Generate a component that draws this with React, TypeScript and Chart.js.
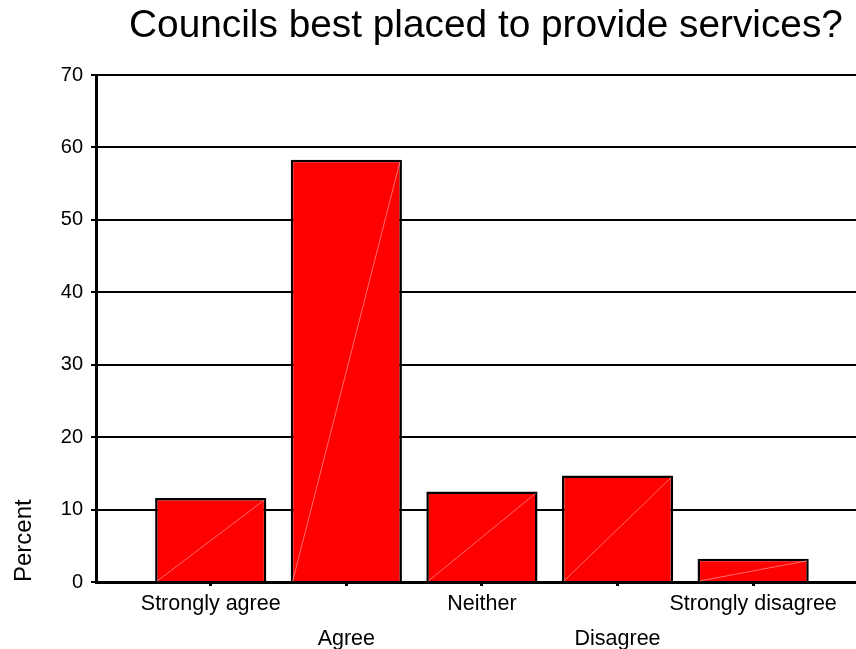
import React, { useEffect, useRef } from "react";
import { Chart, registerables } from "chart.js";

Chart.register(...registerables);

const categories = ["Strongly agree", "Agree", "Neither", "Disagree", "Strongly disagree"];
const percents = [11.6, 58.3, 12.5, 14.7, 3.2];
const yTicks = [0, 10, 20, 30, 40, 50, 60, 70];
const titleText = "Councils best placed to provide services?";
const yTitle = "Percent";

const FONT = "'Liberation Sans', Arial, Helvetica, sans-serif";

const diagonalPlugin = {
  id: "diag",
  afterDatasetsDraw(chart: any) {
    const ctx = chart.ctx;
    const meta = chart.getDatasetMeta(0);
    ctx.save();
    ctx.strokeStyle = "rgba(255,180,180,0.6)";
    ctx.lineWidth = 1;
    meta.data.forEach((bar: any) => {
      const p = bar.getProps(["x", "y", "base", "width"], true);
      const l = p.x - p.width / 2 + 2;
      const r = p.x + p.width / 2 - 2;
      ctx.beginPath();
      ctx.moveTo(l, p.base);
      ctx.lineTo(r, p.y + 2);
      ctx.stroke();
    });
    ctx.restore();
  },
};

export default function App() {
  const ref = useRef<HTMLCanvasElement>(null);
  useEffect(() => {
    if (!ref.current) return;
    const chart = new Chart(ref.current, {
      type: "bar",
      data: {
        datasets: [
          {
            data: percents.map((v, i) => ({ x: i, y: v })),
            backgroundColor: "#ff0000",
            borderColor: "#000000",
            borderWidth: 2.5,
            borderSkipped: "bottom",
            barPercentage: 0.82,
            categoryPercentage: 1,
          },
        ],
      },
      options: {
        responsive: false,
        animation: false,
        layout: { padding: { left: 0, right: 8, top: 0, bottom: 0 } },
        plugins: {
          legend: { display: false },
          tooltip: { enabled: false },
          title: {
            display: true,
            text: titleText,
            fullSize: false,
            color: "#000",
            font: { family: FONT, size: 38.8, weight: "normal" },
            padding: { top: 3.5, bottom: 25 },
          },
        },
        scales: {
          x: {
            type: "linear",
            min: -0.846,
            max: 4.906,
            offset: false,
            afterFit: (s: any) => {
              s.height = 67;
            },
            grid: {
              offset: false,
              drawOnChartArea: false,
              drawTicks: true,
              tickLength: 4,
              color: "#000",
              lineWidth: 3,
            },
            border: { display: true, color: "#000", width: 3 },
            ticks: {
              stepSize: 1,
              includeBounds: false,
              autoSkip: false,
              maxRotation: 0,
              minRotation: 0,
              padding: 1,
              color: "#000",
              font: { family: FONT, size: 21.5, lineHeight: 1.6 },
              callback: (v: any) => {
                const i = Math.round(Number(v));
                if (Math.abs(Number(v) - i) > 1e-6 || i < 0 || i >= categories.length) return "";
                return i % 2 === 0 ? [categories[i]] : ["", categories[i]];
              },
            },
          },
          y: {
            min: yTicks[0],
            max: yTicks[yTicks.length - 1],
            afterFit: (s: any) => {
              s.width = 96;
            },
            afterBuildTicks: (s: any) => {
              s.ticks = yTicks.map((v) => ({ value: v }));
            },
            grid: {
              color: "#000",
              lineWidth: 2,
              drawTicks: true,
              tickLength: 5,
            },
            border: { display: true, color: "#000", width: 3 },
            ticks: {
              padding: 8,
              color: "#000",
              font: { family: FONT, size: 20 },
            },
            title: {
              display: true,
              text: yTitle,
              align: "start",
              color: "#000",
              font: { family: FONT, size: 24, weight: "normal" },
              padding: { top: 10, bottom: 0 },
            },
          },
        },
      },
      plugins: [diagonalPlugin],
    });
    return () => chart.destroy();
  }, []);
  return (
    <div
      style={{
        position: "fixed",
        left: 0,
        top: 0,
        width: 856,
        height: 649,
        overflow: "hidden",
        background: "#fff",
      }}
    >
      <canvas ref={ref} width={884} height={649} style={{ display: "block" }} />
    </div>
  );
}
